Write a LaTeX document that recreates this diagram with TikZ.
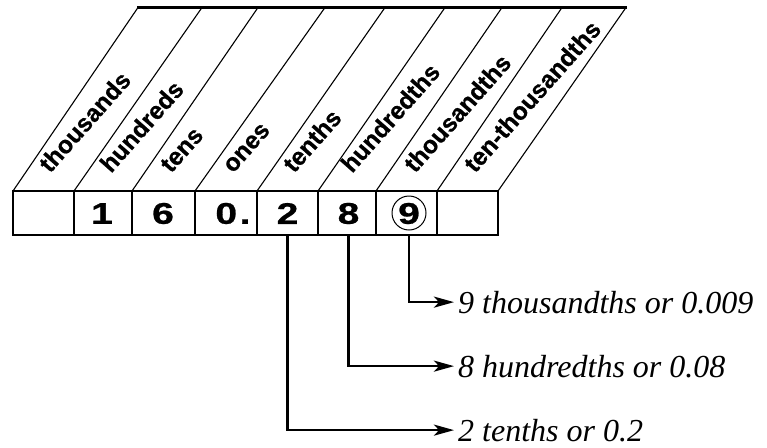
\documentclass[tikz,border=0pt]{standalone}
\usepackage{fontspec}
\setmainfont{Liberation Serif}
\setsansfont{Liberation Sans}
\newfontfamily\heavysans{Liberation Sans}[UprightFont={* Bold}, FakeBold=0.7]
\usetikzlibrary{arrows.meta}
\begin{document}
\begin{tikzpicture}[x=1pt,y=-1pt,
  cell/.style={draw, line width=1.2pt, minimum height=44pt, inner sep=0pt},
  digit/.style={font=\heavysans\fontsize{30}{30}\selectfont, inner sep=0pt},
  place/.style={font=\heavysans\fontsize{24.5}{24.5}\selectfont, inner sep=0pt, rotate=48.5, anchor=base west},
  slant/.style={line width=1.1pt},
  toprule/.style={line width=2.4pt},
  conn/.style={line width=2.5pt, -{Stealth[length=20pt,width=11pt,inset=5pt]}, shorten >=4pt},
  result/.style={font=\itshape\fontsize{32}{32}\selectfont, inner sep=0pt, anchor=base west}]
\useasboundingbox (0,0) rectangle (767,447);
% slanted dividers
\foreach \b/\t in {13/138,74/202,132/258,195/325,257/385,318/445,376/502,437/562,498/626}
  \draw[slant] (\b,191) -- (\t,7.5);
\draw[toprule] (137,7.5) -- (627,7.5);
% cells
\node[cell, minimum width=61pt] (c1) at (43.5,213) {};
\node[cell, minimum width=58pt] (c2) at (103,213) {};
\node[cell, minimum width=63pt] (c3) at (163.5,213) {};
\node[cell, minimum width=62pt] (c4) at (226,213) {};
\node[cell, minimum width=61pt] (c5) at (287.5,213) {};
\node[cell, minimum width=58pt] (c6) at (347,213) {};
\node[cell, minimum width=61pt] (c7) at (406.5,213) {};
\node[cell, minimum width=61pt] (c8) at (467.5,213) {};
% place names
\node[place] (p1) at (50,174) {thousands};
\node[place] (p2) at (111,174) {hundreds};
\node[place] (p3) at (171,174) {tens};
\node[place] (p4) at (233,174) {ones};
\node[place] (p5) at (294,174) {tenths};
\node[place] (p6) at (352,174) {hundredths};
\node[place] (p7) at (415,174) {thousandths};
\node[place] (p8) at (475,174) {ten-thousandths};
% digits
\node[digit] (d1) at (102,213.5) {\scalebox{1.3}[1]{1}};
\node[digit] (d6) at (163,213.5) {\scalebox{1.3}[1]{6}};
\node[digit] (d0) at (233,213.5) {\scalebox{1.3}[1]{0\hspace{2pt}.}};
\node[digit] (d2) at (287.5,213.5) {\scalebox{1.3}[1]{2}};
\node[digit] (d8) at (348.5,213.5) {\scalebox{1.3}[1]{8}};
\node[digit] (d9) at (409,213.5) {\scalebox{1.3}[1]{9}};
\node[draw, circle, line width=1pt, minimum size=34pt, inner sep=0pt] (o9) at (409,213) {};
% results
\node[result] (r9) at (458,313) {9 thousandths or 0.009};
\node[result] (r8) at (458,377) {8 hundredths or 0.08};
\node[result] (r2) at (458,441) {2 tenths or 0.2};
% connectors
\draw[conn] (d9 |- c7.south) |- (r9.west);
\draw[conn] (d8 |- c6.south) |- (r8.west);
\draw[conn] (d2 |- c5.south) |- (r2.west);
\end{tikzpicture}
\end{document}
